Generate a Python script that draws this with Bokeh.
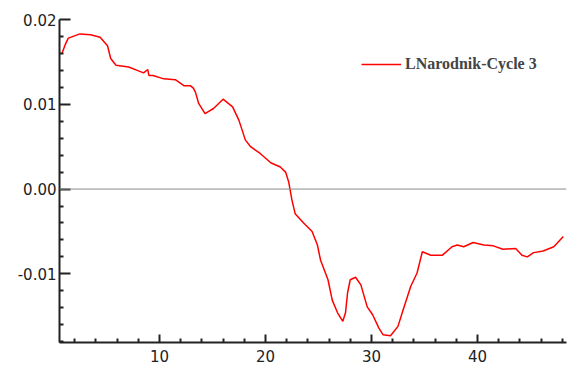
from bokeh.plotting import figure
from bokeh.models import Range1d, FixedTicker, PrintfTickFormatter, Span, Legend, LegendItem
from bokeh.embed import file_html
from bokeh.resources import INLINE

x_vals = [0.8, 1.1, 1.4, 2.5, 3.5, 4.4, 5.1, 5.4, 5.9, 7.1,
          7.9, 8.5, 8.9, 9.0, 9.4, 10.4, 11.5, 12.3, 12.9, 13.2,
          13.4, 13.7, 14.3, 15.1, 16.0, 16.9, 17.5, 18.1, 18.6, 19.5,
          20.5, 21.4, 21.9, 22.2, 22.5, 22.8, 23.6, 24.4, 24.9, 25.2,
          25.9, 26.3, 26.8, 27.3, 27.55, 27.75, 28.0, 28.5, 29.0, 29.6,
          30.1, 30.7, 31.1, 31.8, 32.5, 33.0, 33.7, 34.3, 34.8, 35.6,
          36.7, 37.6, 38.1, 38.7, 39.6, 40.6, 41.5, 42.4, 43.6, 44.2,
          44.7, 45.3, 46.2, 47.2, 48.1]
y_vals = [0.0160, 0.0170, 0.0178, 0.0183, 0.0182, 0.0179, 0.0169, 0.0154, 0.0146, 0.0144,
          0.0140, 0.0137, 0.0141, 0.0134, 0.0134, 0.0130, 0.0129, 0.0122, 0.0122, 0.0119,
          0.0114, 0.0101, 0.0089, 0.0095, 0.0106, 0.0097, 0.0081, 0.0058, 0.0050, 0.0042,
          0.0031, 0.0026, 0.0020, 0.0008, -0.0013, -0.0029, -0.0040, -0.0050, -0.0066, -0.0084,
          -0.0107, -0.0131, -0.0146, -0.0156, -0.0146, -0.0122, -0.0107, -0.0104, -0.0113, -0.0139,
          -0.0148, -0.0164, -0.0172, -0.0173, -0.0162, -0.0142, -0.0115, -0.0099, -0.0074, -0.0078,
          -0.0078, -0.0068, -0.0066, -0.0068, -0.0063, -0.0066, -0.0067, -0.0071, -0.0070, -0.0078,
          -0.0080, -0.0075, -0.0073, -0.0068, -0.0056]
series_name = "LNarodnik-Cycle 3"
x_ticks = [10, 20, 30, 40]
x_minor = [2, 4, 6, 8, 12, 14, 16, 18, 22, 24, 26, 28, 32, 34, 36, 38, 42, 44, 46, 48]
y_ticks = [-0.01, 0.0, 0.01, 0.02]
y_minor = [-0.018, -0.016, -0.014, -0.012, -0.008, -0.006, -0.004, -0.002,
           0.002, 0.004, 0.006, 0.008, 0.012, 0.014, 0.016, 0.018]

p = figure(width=568, height=367, output_backend="svg", toolbar_location=None,
           x_range=Range1d(0.57, 48.4), y_range=Range1d(-0.0181, 0.02),
           min_border_left=59, min_border_right=2, min_border_top=19, min_border_bottom=25)
p.outline_line_color = None
p.xgrid.visible = False
p.ygrid.visible = False
p.background_fill_color = "white"
p.border_fill_color = "white"

zero = Span(location=0, dimension="width", line_color="#8a8a8a", line_width=1)
p.add_layout(zero)

r = p.line(x_vals, y_vals, line_color="#ff0000", line_width=1.5)

for ax in (p.xaxis[0], p.yaxis[0]):
    ax.axis_line_color = "#222222"
    ax.axis_line_width = 2
    ax.major_tick_line_color = "#222222"
    ax.minor_tick_line_color = "#222222"
    ax.major_tick_line_width = 2
    ax.minor_tick_line_width = 2
    ax.major_tick_out = 0
    ax.minor_tick_out = 0
    ax.major_label_text_font = "DejaVu Sans"
    ax.major_label_text_font_size = "15px"
    ax.major_label_text_color = "#222222"
    ax.major_label_standoff = 3

p.yaxis[0].ticker = FixedTicker(ticks=y_ticks, minor_ticks=y_minor)
p.yaxis[0].formatter = PrintfTickFormatter(format="%.2f")
p.yaxis[0].major_tick_in = 11
p.yaxis[0].minor_tick_in = 4
p.xaxis[0].ticker = FixedTicker(ticks=x_ticks, minor_ticks=x_minor)
p.xaxis[0].major_tick_in = 8
p.xaxis[0].minor_tick_in = 4
p.xaxis[0].major_label_standoff = 7

legend = Legend(items=[LegendItem(label=series_name, renderers=[r])],
                location=(302, 268))
legend.border_line_color = None
legend.background_fill_alpha = 0
legend.padding = 0
legend.margin = 0
legend.glyph_width = 40
legend.label_standoff = 4
legend.label_text_font = "Liberation Serif"
legend.label_text_font_style = "bold"
legend.label_text_font_size = "16px"
p.add_layout(legend)

open("out.html", "w").write(file_html(p, INLINE))
